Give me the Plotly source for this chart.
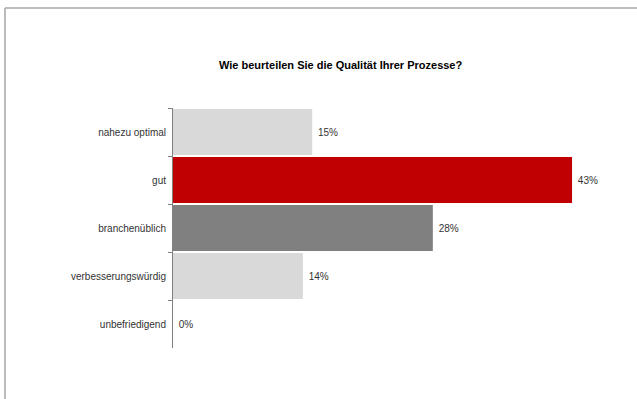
import plotly.graph_objects as go

categories = ["nahezu optimal", "gut", "branchenüblich", "verbesserungswürdig", "unbefriedigend"]
values = [15, 43, 28, 14, 0]
labels = ["15%", "43%", "28%", "14%", "0%"]
colors = ["#d9d9d9", "#c00000", "#808080", "#d9d9d9", "#d9d9d9"]
title = "Wie beurteilen Sie die Qualität Ihrer Prozesse?"

fig = go.Figure(go.Bar(
    x=values, y=categories, orientation="h",
    marker=dict(color=colors, line=dict(width=0)),
    text=[" " + t for t in labels], textposition="outside", cliponaxis=False,
    textfont=dict(family="Liberation Sans, Arial", size=10, color="#333333"),
    hoverinfo="skip",
))

W, H = 637, 399
L, R, T, B = 173, 0, 108, 51
pw, ph = W - L - R, H - T - B

def px(x):
    return (x - L) / pw

def py(y):
    return (H - B - y) / ph

fig.update_layout(
    width=W, height=H,
    margin=dict(l=L, r=R, t=T, b=B, pad=0),
    paper_bgcolor="white", plot_bgcolor="white",
    showlegend=False,
    bargap=0.04,
    font=dict(family="Liberation Sans, Arial", size=10, color="#333333"),
    xaxis=dict(range=[0, 50], visible=False, fixedrange=True),
    yaxis=dict(
        autorange="reversed", showline=True, linecolor="#808080", linewidth=1,
        ticks="outside", tickson="boundaries", ticklen=4, tickcolor="#808080",
        showgrid=False, zeroline=False,
        tickfont=dict(family="Liberation Sans, Arial", size=10, color="#333333"),
        ticklabelstandoff=4,
    ),
    annotations=[dict(
        text="<b>" + title + "</b>", xref="paper", yref="paper",
        x=px(340), y=py(65), xanchor="center", yanchor="middle", showarrow=False,
        font=dict(family="Liberation Sans, Arial", size=11, color="#000000"),
    )],
    shapes=[
        dict(type="line", xref="paper", yref="paper", x0=px(5), x1=px(W + 5), y0=py(8), y1=py(8),
             line=dict(color="#a6a6a6", width=1.5)),
        dict(type="line", xref="paper", yref="paper", x0=px(5), x1=px(5), y0=py(8), y1=py(H + 5),
             line=dict(color="#a6a6a6", width=1.5)),
    ],
)

fig.write_html("out.html")
